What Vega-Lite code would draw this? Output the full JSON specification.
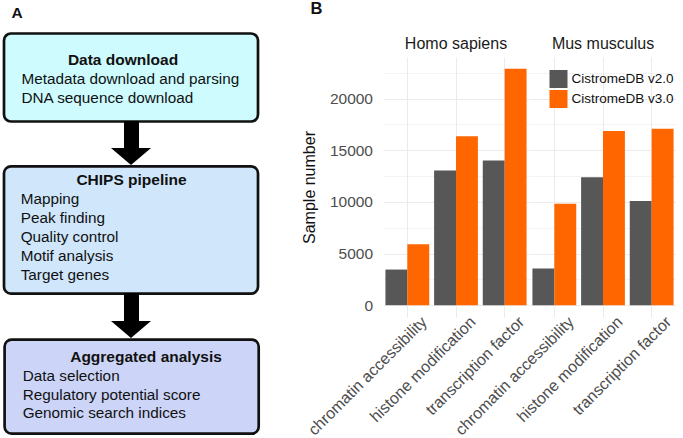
{
  "$schema": "https://vega.github.io/schema/vega-lite/v6.json",
  "padding": 0,
  "background": "white",
  "spacing": 39,
  "config": {
    "font": "Liberation Sans",
    "view": {"stroke": null},
    "title": {"font": "Liberation Sans"}
  },
  "resolve": {"scale": {"color": "independent", "fill": "independent"}},
  "datasets": {
    "boxes": [
      {"box": "download", "x": 4, "x2": 258, "y": 33.5, "y2": 121.5},
      {"box": "chips", "x": 4, "x2": 258, "y": 166.3, "y2": 293.7},
      {"box": "aggregated", "x": 4.6, "x2": 258.7, "y": 339.6, "y2": 433.7}
    ],
    "shafts": [
      {"x": 124, "x2": 139, "y": 121, "y2": 149},
      {"x": 124, "x2": 139, "y": 293, "y2": 322}
    ],
    "heads": [
      {"x": 131, "y": 156.5},
      {"x": 131, "y": 329.5}
    ],
    "titles": [
      {"text": "A", "x": 17, "y": 13},
      {"text": "Data download", "x": 123, "y": 59.5},
      {"text": "CHIPS pipeline", "x": 131.5, "y": 180},
      {"text": "Aggregated analysis", "x": 146, "y": 357}
    ],
    "items": [
      {"text": "Metadata download and parsing", "x": 21.5, "y": 79},
      {"text": "DNA sequence download", "x": 21.5, "y": 97.7},
      {"text": "Mapping", "x": 20.7, "y": 199.3},
      {"text": "Peak finding", "x": 20.7, "y": 218.3},
      {"text": "Quality control", "x": 20.7, "y": 237},
      {"text": "Motif analysis", "x": 20.7, "y": 256},
      {"text": "Target genes", "x": 20.7, "y": 275},
      {"text": "Data selection", "x": 22.7, "y": 375.7},
      {"text": "Regulatory potential score", "x": 22.7, "y": 395},
      {"text": "Genomic search indices", "x": 22.7, "y": 413.3}
    ],
    "counts": [
      {"species": "Homo sapiens", "type": "chromatin accessibility", "version": "CistromeDB v2.0", "count": 3450},
      {"species": "Homo sapiens", "type": "chromatin accessibility", "version": "CistromeDB v3.0", "count": 5900},
      {"species": "Homo sapiens", "type": "histone modification", "version": "CistromeDB v2.0", "count": 13050},
      {"species": "Homo sapiens", "type": "histone modification", "version": "CistromeDB v3.0", "count": 16370},
      {"species": "Homo sapiens", "type": "transcription factor", "version": "CistromeDB v2.0", "count": 14020},
      {"species": "Homo sapiens", "type": "transcription factor", "version": "CistromeDB v3.0", "count": 22890},
      {"species": "Mus musculus", "type": "chromatin accessibility", "version": "CistromeDB v2.0", "count": 3550},
      {"species": "Mus musculus", "type": "chromatin accessibility", "version": "CistromeDB v3.0", "count": 9830},
      {"species": "Mus musculus", "type": "histone modification", "version": "CistromeDB v2.0", "count": 12400},
      {"species": "Mus musculus", "type": "histone modification", "version": "CistromeDB v3.0", "count": 16860},
      {"species": "Mus musculus", "type": "transcription factor", "version": "CistromeDB v2.0", "count": 10090},
      {"species": "Mus musculus", "type": "transcription factor", "version": "CistromeDB v3.0", "count": 17090}
    ]
  },
  "hconcat": [
    {
      "width": 262,
      "height": 381,
      "encoding": {
        "x": {"field": "x", "type": "quantitative", "scale": {"domain": [0, 262], "nice": false, "zero": false}, "axis": null},
        "y": {"field": "y", "type": "quantitative", "scale": {"domain": [57, 438], "reverse": true, "nice": false, "zero": false}, "axis": null}
      },
      "layer": [
        {
          "data": {"name": "boxes"},
          "mark": {"type": "rect", "cornerRadius": 7, "stroke": "#111111", "strokeWidth": 2.7, "fillOpacity": 1, "clip": false},
          "encoding": {
            "x2": {"field": "x2"},
            "y2": {"field": "y2"},
            "fill": {"field": "box", "type": "nominal", "scale": {"domain": ["download", "chips", "aggregated"], "range": ["#cdfbfe", "#cfe6fb", "#ccd5f7"]}, "legend": null}
          }
        },
        {
          "data": {"name": "shafts"},
          "mark": {"type": "rect", "fill": "#000000"},
          "encoding": {"x2": {"field": "x2"}, "y2": {"field": "y2"}}
        },
        {
          "data": {"name": "heads"},
          "mark": {"type": "point", "shape": "M-1,-0.42L1,-0.42L0,0.42Z", "filled": true, "size": 1600, "fill": "#000000", "opacity": 1, "strokeWidth": 0}
        },
        {
          "data": {"name": "titles"},
          "mark": {"type": "text", "fontWeight": "bold", "fontSize": 15.5, "align": "center", "baseline": "middle", "color": "#111111"},
          "encoding": {"text": {"field": "text"}}
        },
        {
          "data": {"name": "items"},
          "mark": {"type": "text", "fontSize": 15.3, "align": "left", "baseline": "middle", "color": "#111111"},
          "encoding": {"text": {"field": "text"}}
        }
      ]
    },
    {
      "data": {"name": "counts"},
      "title": {"text": "B", "anchor": "start", "frame": "group", "fontSize": 16.5, "fontWeight": "bold", "color": "#111111", "dx": -72.5, "offset": 19},
      "facet": {
        "column": {
          "field": "species",
          "type": "nominal",
          "header": {"title": null, "labelFontSize": 16, "labelColor": "#1a1a1a", "labelFont": "Liberation Sans", "labelPadding": 5}
        }
      },
      "spacing": 1,
      "spec": {
        "width": 146,
        "height": 260,
        "mark": {"type": "bar"},
        "encoding": {
          "x": {
            "field": "type",
            "type": "nominal",
            "title": null,
            "scale": {"paddingInner": 0.1, "paddingOuter": 0.05},
            "axis": {
              "labelAngle": -45,
              "labelAlign": "right",
              "labelBaseline": "middle",
              "labelOffset": 17,
              "labelPadding": 2,
              "labelFontSize": 16,
              "labelColor": "#4d4d4d",
              "labelFont": "Liberation Sans",
              "labelLimit": 300,
              "ticks": false,
              "domain": false,
              "grid": true,
              "bandPosition": 0.5,
              "gridColor": "#ebebeb",
              "gridWidth": 1
            }
          },
          "xOffset": {"field": "version", "type": "nominal", "scale": {"paddingInner": 0, "paddingOuter": 0}},
          "y": {
            "field": "count",
            "type": "quantitative",
            "title": "Sample number",
            "scale": {"domain": [-1145, 24035], "nice": false, "zero": false},
            "axis": {
              "values": [0, 2500, 5000, 7500, 10000, 12500, 15000, 17500, 20000, 22500],
              "format": "d",
              "labelExpr": "datum.value % 5000 == 0 ? datum.label : ''",
              "labelFontSize": 15.5,
              "labelColor": "#4d4d4d",
              "labelFont": "Liberation Sans",
              "labelPadding": 10.5,
              "ticks": false,
              "domain": false,
              "grid": true,
              "gridColor": "#ebebeb",
              "gridWidth": {"condition": {"test": "datum.value % 5000 != 0", "value": 0.6}, "value": 1.1},
              "titleFontSize": 16,
              "titleFontWeight": "normal",
              "titleColor": "#111111",
              "titleFont": "Liberation Sans",
              "titlePadding": 12
            }
          },
          "color": {
            "field": "version",
            "type": "nominal",
            "scale": {"domain": ["CistromeDB v2.0", "CistromeDB v3.0"], "range": ["#575757", "#ff6600"]},
            "legend": {
              "title": null,
              "orient": "none",
              "legendX": 166.5,
              "legendY": 13,
              "symbolType": "square",
              "symbolSize": 324,
              "symbolStrokeWidth": 0,
              "symbolOpacity": 1,
              "labelFontSize": 13.5,
              "labelColor": "#111111",
              "labelFont": "Liberation Sans",
              "labelOffset": 4,
              "rowPadding": 2
            }
          }
        }
      }
    }
  ]
}
